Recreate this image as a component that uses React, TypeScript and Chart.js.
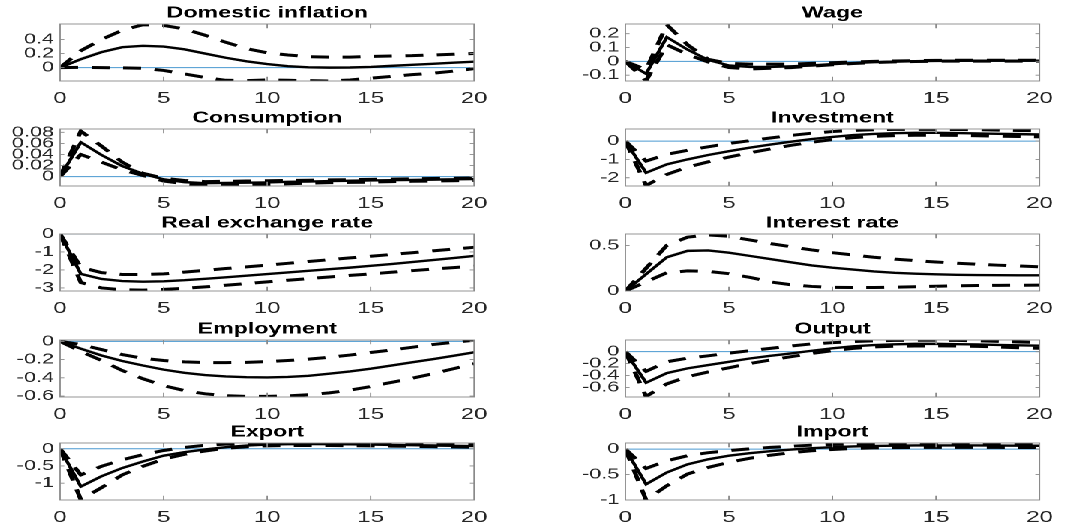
import React, { useEffect, useRef } from "react";
import { Chart, registerables } from "chart.js";

Chart.register(...registerables);

// ---------- data ----------
const horizon = [0, 1, 2, 3, 4, 5, 6, 7, 8, 9, 10, 11, 12, 13, 14, 15, 16, 17, 18, 19, 20];
const xTicks = [0, 5, 10, 15, 20];

const infMed = [0, 0.12, 0.22, 0.29, 0.31, 0.3, 0.26, 0.2, 0.14, 0.09, 0.05, 0.02, 0.005, 0, 0.002, 0.01, 0.025, 0.04, 0.055, 0.07, 0.085];
const infUp = [0, 0.24, 0.4, 0.53, 0.61, 0.6, 0.55, 0.46, 0.36, 0.27, 0.21, 0.18, 0.155, 0.15, 0.15, 0.16, 0.165, 0.17, 0.18, 0.19, 0.2];
const infLo = [0, 0.005, 0, -0.003, -0.01, -0.04, -0.09, -0.14, -0.18, -0.185, -0.175, -0.18, -0.185, -0.19, -0.175, -0.15, -0.125, -0.1, -0.08, -0.05, -0.015];

const wageMed = [0, -0.09, 0.175, 0.085, 0.01, -0.03, -0.04, -0.04, -0.036, -0.03, -0.02, -0.012, -0.006, -0.002, 0.001, 0.003, 0.004, 0.005, 0.005, 0.005, 0.005];
const wageUp = [0, -0.06, 0.265, 0.12, 0.015, -0.015, -0.02, -0.02, -0.02, -0.015, -0.01, -0.004, 0, 0.003, 0.005, 0.007, 0.008, 0.008, 0.008, 0.008, 0.008];
const wageLo = [0, -0.14, 0.12, 0.05, -0.005, -0.045, -0.055, -0.05, -0.045, -0.035, -0.025, -0.016, -0.009, -0.004, -0.001, 0.001, 0.002, 0.002, 0.002, 0.002, 0.002];

const conMed = [0, 0.062, 0.039, 0.019, 0.005, -0.005, -0.01, -0.012, -0.0115, -0.011, -0.0105, -0.0095, -0.009, -0.008, -0.0075, -0.007, -0.0065, -0.006, -0.0055, -0.005, -0.0045];
const conUp = [0, 0.082, 0.055, 0.026, 0.006, -0.003, -0.007, -0.009, -0.0085, -0.008, -0.0075, -0.007, -0.0065, -0.006, -0.0055, -0.005, -0.0045, -0.004, -0.0035, -0.003, -0.0025];
const conLo = [0, 0.04, 0.026, 0.012, 0.002, -0.008, -0.013, -0.0155, -0.015, -0.0145, -0.014, -0.013, -0.012, -0.011, -0.0105, -0.01, -0.009, -0.0085, -0.008, -0.0075, -0.007];

const invMed = [0, -1.73, -1.27, -1.0, -0.76, -0.55, -0.36, -0.19, -0.03, 0.11, 0.23, 0.33, 0.39, 0.43, 0.45, 0.45, 0.44, 0.42, 0.4, 0.38, 0.36];
const invUp = [0, -1.09, -0.72, -0.5, -0.31, -0.13, 0.02, 0.17, 0.31, 0.43, 0.52, 0.58, 0.62, 0.64, 0.64, 0.64, 0.63, 0.62, 0.6, 0.58, 0.56];
const invLo = [0, -2.42, -1.82, -1.42, -1.13, -0.87, -0.64, -0.43, -0.23, -0.06, 0.08, 0.19, 0.26, 0.3, 0.32, 0.32, 0.31, 0.29, 0.27, 0.25, 0.23];

const rerMed = [0, -2.22, -2.5, -2.62, -2.65, -2.63, -2.57, -2.49, -2.41, -2.32, -2.23, -2.14, -2.05, -1.96, -1.87, -1.77, -1.67, -1.56, -1.45, -1.34, -1.22];
const rerUp = [0, -1.85, -2.15, -2.25, -2.25, -2.22, -2.12, -2.02, -1.92, -1.83, -1.73, -1.63, -1.53, -1.43, -1.33, -1.24, -1.14, -1.04, -0.94, -0.84, -0.74];
const rerLo = [0, -2.7, -3.0, -3.1, -3.12, -3.08, -3.02, -2.94, -2.85, -2.76, -2.66, -2.57, -2.48, -2.39, -2.3, -2.22, -2.13, -2.04, -1.95, -1.87, -1.79];

const intMed = [0, 0.185, 0.37, 0.44, 0.445, 0.42, 0.385, 0.35, 0.315, 0.28, 0.255, 0.235, 0.215, 0.2, 0.19, 0.183, 0.178, 0.175, 0.173, 0.172, 0.172];
const intUp = [0, 0.25, 0.5, 0.59, 0.615, 0.6, 0.56, 0.52, 0.485, 0.45, 0.42, 0.395, 0.37, 0.35, 0.333, 0.318, 0.305, 0.293, 0.283, 0.274, 0.265];
const intLo = [0, 0.1, 0.2, 0.22, 0.215, 0.19, 0.15, 0.1, 0.068, 0.05, 0.04, 0.038, 0.038, 0.042, 0.047, 0.052, 0.057, 0.06, 0.062, 0.063, 0.064];

const empMed = [0, -0.08, -0.155, -0.215, -0.265, -0.31, -0.345, -0.37, -0.385, -0.393, -0.395, -0.39, -0.378, -0.355, -0.33, -0.3, -0.265, -0.23, -0.195, -0.158, -0.12];
const empUp = [0, -0.035, -0.09, -0.145, -0.185, -0.21, -0.225, -0.232, -0.233, -0.23, -0.222, -0.21, -0.195, -0.175, -0.15, -0.122, -0.095, -0.065, -0.035, -0.01, 0.012];
const empLo = [0, -0.11, -0.21, -0.32, -0.41, -0.485, -0.54, -0.575, -0.595, -0.603, -0.603, -0.597, -0.585, -0.565, -0.535, -0.495, -0.45, -0.405, -0.355, -0.3, -0.245];

const outMed = [0, -0.52, -0.36, -0.28, -0.225, -0.17, -0.115, -0.07, -0.03, 0.015, 0.055, 0.09, 0.11, 0.123, 0.13, 0.13, 0.125, 0.12, 0.112, 0.106, 0.1];
const outUp = [0, -0.33, -0.17, -0.11, -0.07, -0.025, 0.015, 0.055, 0.095, 0.13, 0.15, 0.168, 0.18, 0.188, 0.19, 0.19, 0.188, 0.182, 0.172, 0.162, 0.152];
const outLo = [0, -0.75, -0.54, -0.42, -0.34, -0.27, -0.2, -0.14, -0.085, -0.03, 0.017, 0.055, 0.078, 0.09, 0.095, 0.096, 0.094, 0.088, 0.078, 0.066, 0.056];

const expMed = [0, -1.1, -0.8, -0.56, -0.37, -0.2, -0.1, -0.02, 0.045, 0.095, 0.122, 0.135, 0.138, 0.135, 0.13, 0.122, 0.113, 0.104, 0.095, 0.087, 0.08];
const expUp = [0, -0.76, -0.51, -0.32, -0.17, -0.05, 0.04, 0.1, 0.135, 0.155, 0.163, 0.165, 0.165, 0.163, 0.16, 0.156, 0.152, 0.148, 0.144, 0.14, 0.136];
const expLo = [0, -1.48, -1.13, -0.76, -0.51, -0.3, -0.16, -0.065, 0.015, 0.06, 0.085, 0.095, 0.097, 0.095, 0.09, 0.085, 0.078, 0.07, 0.062, 0.055, 0.048];

const impMed = [0, -0.69, -0.46, -0.3, -0.2, -0.13, -0.08, -0.04, -0.008, 0.018, 0.038, 0.052, 0.062, 0.068, 0.072, 0.073, 0.073, 0.072, 0.07, 0.068, 0.066];
const impUp = [0, -0.38, -0.23, -0.13, -0.07, -0.03, 0.006, 0.033, 0.057, 0.077, 0.09, 0.1, 0.107, 0.111, 0.113, 0.113, 0.112, 0.11, 0.108, 0.106, 0.104];
const impLo = [0, -1.0, -0.72, -0.49, -0.36, -0.26, -0.18, -0.12, -0.07, -0.032, -0.007, 0.012, 0.024, 0.03, 0.033, 0.034, 0.034, 0.034, 0.033, 0.032, 0.031];

const titles = ["Domestic inflation", "Wage", "Consumption", "Investment", "Real exchange rate", "Interest rate", "Employment", "Output", "Export", "Import"];
const medians = [infMed, wageMed, conMed, invMed, rerMed, intMed, empMed, outMed, expMed, impMed];
const uppers = [infUp, wageUp, conUp, invUp, rerUp, intUp, empUp, outUp, expUp, impUp];
const lowers = [infLo, wageLo, conLo, invLo, rerLo, intLo, empLo, outLo, expLo, impLo];
const yMins = [-0.19, -0.142, -0.017, -2.45, -3.17, 0, -0.61, -0.76, -1.49, -1.0];
const yMaxs = [0.62, 0.27, 0.086, 0.66, 0, 0.625, 0.015, 0.195, 0.168, 0.12];
const yTickSets = [
  [0, 0.2, 0.4],
  [-0.1, 0, 0.1, 0.2],
  [0, 0.02, 0.04, 0.06, 0.08],
  [-2, -1, 0],
  [-3, -2, -1, 0],
  [0, 0.5],
  [-0.6, -0.4, -0.2, 0],
  [-0.6, -0.4, -0.2, 0],
  [-1, -0.5, 0],
  [-1, -0.5, 0],
];
const zeroLevel = 0;

// ---------- layout (unstretched coordinates; whole figure stretched 1.5x horizontally) ----------
const STRETCH = 1.5;
const plotLeft = [60 / STRETCH, 626 / STRETCH];
const plotRight = [477.5 / STRETCH, 1047.3 / STRETCH];
const plotTops = [24, 129, 234, 340, 443];
const PLOT_H = 57;
const TITLE_H = 22;
const XAXIS_H = 24;
const YAXIS_W = 40;
const CANVAS_W = 333;

const FONT = "'Liberation Sans', Arial, Helvetica, sans-serif";

function Panel({ idx }: { idx: number }) {
  const ref = useRef<HTMLCanvasElement | null>(null);
  const col = idx % 2;
  const row = Math.floor(idx / 2);
  const left = plotLeft[col] - YAXIS_W;
  const top = plotTops[row] - TITLE_H;
  const height = TITLE_H + PLOT_H + XAXIS_H;
  const padRight = left + CANVAS_W - plotRight[col];

  useEffect(() => {
    const canvas = ref.current;
    if (!canvas) return;
    const yTicks = yTickSets[idx];
    const boxPlugin = {
      id: "matlabBox",
      afterDatasetsDraw(chart: any) {
        const { ctx, chartArea: a, scales } = chart;
        ctx.save();
        ctx.strokeStyle = "#8a8a8a";
        ctx.lineWidth = 0.9;
        ctx.strokeRect(a.left, a.top, a.right - a.left, a.bottom - a.top);
        const tl = 2.8;
        ctx.beginPath();
        for (const t of xTicks) {
          if (t <= 0 || t >= 20) continue;
          const px = scales.x.getPixelForValue(t);
          ctx.moveTo(px, a.bottom);
          ctx.lineTo(px, a.bottom - tl * 1.5);
          ctx.moveTo(px, a.top);
          ctx.lineTo(px, a.top + tl * 1.5);
        }
        for (const t of yTicks) {
          const py = scales.y.getPixelForValue(t);
          if (py <= a.top + 0.5 || py >= a.bottom - 0.5) continue;
          ctx.moveTo(a.left, py);
          ctx.lineTo(a.left + tl, py);
          ctx.moveTo(a.right, py);
          ctx.lineTo(a.right - tl, py);
        }
        ctx.stroke();
        ctx.restore();
      },
    };
    const toPts = (arr: number[]) => horizon.map((x, i) => ({ x, y: arr[i] }));
    const chart = new Chart(canvas, {
      type: "line",
      data: {
        datasets: [
          {
            data: toPts(medians[idx]),
            borderColor: "#000000",
            borderWidth: 2.4,
            pointRadius: 0,
            tension: 0,
          },
          {
            data: toPts(uppers[idx]),
            borderColor: "#000000",
            borderWidth: 3,
            borderDash: [12, 9],
            pointRadius: 0,
            tension: 0,
          },
          {
            data: toPts(lowers[idx]),
            borderColor: "#000000",
            borderWidth: 3,
            borderDash: [12, 9],
            pointRadius: 0,
            tension: 0,
          },
          {
            data: horizon.map((x) => ({ x, y: zeroLevel })),
            borderColor: "#4a98d0",
            borderWidth: 1,
            pointRadius: 0,
            tension: 0,
          },
        ],
      },
      options: {
        animation: false,
        responsive: true,
        maintainAspectRatio: false,
        devicePixelRatio: 2,
        events: [],
        layout: { padding: { left: 0, right: padRight, top: 0, bottom: 0 } },
        plugins: {
          legend: { display: false },
          tooltip: { enabled: false },
          title: {
            display: true,
            text: titles[idx],
            fullSize: false,
            color: "#000000",
            font: { family: FONT, size: 15.5, weight: "bold", lineHeight: 1.2 },
            padding: { top: 2, bottom: 1.4 },
          },
        },
        scales: {
          x: {
            type: "linear",
            min: 0,
            max: 20,
            grid: { display: false, drawTicks: false },
            border: { display: false },
            afterBuildTicks: (s: any) => {
              s.ticks = xTicks.map((v) => ({ value: v }));
            },
            afterFit: (s: any) => {
              s.height = XAXIS_H;
            },
            ticks: {
              padding: 8,
              color: "#262626",
              autoSkip: false,
              maxRotation: 0,
              font: { family: FONT, size: 16 },
              callback: (v: any) => String(v),
            },
          },
          y: {
            type: "linear",
            min: yMins[idx],
            max: yMaxs[idx],
            grid: { display: false, drawTicks: false },
            border: { display: false },
            afterBuildTicks: (s: any) => {
              s.ticks = yTicks.map((v) => ({ value: v }));
            },
            afterFit: (s: any) => {
              s.width = YAXIS_W;
            },
            ticks: {
              padding: 4,
              color: "#262626",
              autoSkip: false,
              font: { family: FONT, size: 14.5 },
              callback: (v: any) => String(v),
            },
          },
        },
      },
      plugins: [boxPlugin],
    } as any);
    return () => chart.destroy();
  }, [idx]);

  return (
    <div
      style={{
        position: "absolute",
        left: left,
        top: top,
        width: CANVAS_W,
        height: height,
      }}
    >
      <canvas ref={ref} />
    </div>
  );
}

export default function App() {
  return (
    <div
      style={{
        position: "absolute",
        left: 0,
        top: 0,
        width: 1075 / STRETCH,
        height: 524,
        transform: `scaleX(${STRETCH})`,
        transformOrigin: "0 0",
        background: "#ffffff",
      }}
    >
      {titles.map((_, i) => (
        <Panel key={i} idx={i} />
      ))}
    </div>
  );
}
